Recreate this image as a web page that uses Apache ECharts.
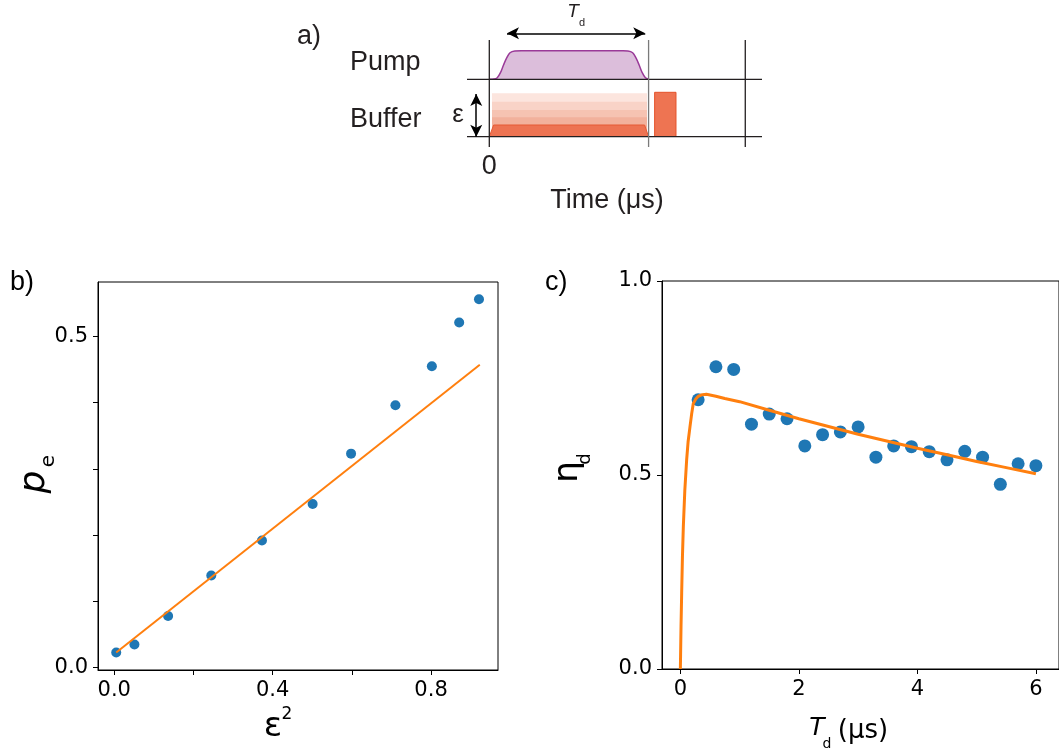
<!DOCTYPE html>
<html>
<head>
<meta charset="utf-8">
<script src="https://cdn.jsdelivr.net/npm/echarts@6/dist/echarts.min.js"></script>
<style>
html,body{margin:0;padding:0;background:#fff;}
#chart{width:1059px;height:754px;}
</style>
</head>
<body>
<div id="chart"></div>
<script>
// ---------- Panel b data ----------
const bX = [0.005, 0.051, 0.136, 0.245, 0.373, 0.501, 0.598, 0.710, 0.802, 0.871, 0.921];
const bY = [0.023, 0.035, 0.078, 0.139, 0.192, 0.247, 0.323, 0.396, 0.455, 0.521, 0.556];
const bFitX = [0.005, 0.923];
const bFitY = [0.023, 0.457];
const bXTicks = [0, 0.2, 0.4, 0.6, 0.8];
const bXLabels = [0, 0.4, 0.8];
const bYTicks = [0, 0.1, 0.2, 0.3, 0.4, 0.5];
const bYLabels = [0, 0.5];

// ---------- Panel c data ----------
const cX = [0.3, 0.6, 0.9, 1.2, 1.5, 1.8, 2.1, 2.4, 2.7, 3.0, 3.3, 3.6, 3.9, 4.2, 4.5, 4.8, 5.1, 5.4, 5.7, 6.0];
const cY = [0.694, 0.779, 0.772, 0.631, 0.657, 0.645, 0.575, 0.604, 0.611, 0.624, 0.546, 0.575, 0.573, 0.560, 0.539, 0.561, 0.546, 0.476, 0.529, 0.524];
const cFitX = [0, 0.011, 0.022, 0.035, 0.05, 0.075, 0.106, 0.13, 0.162, 0.19, 0.218, 0.26, 0.302, 0.37, 0.44, 0.6, 0.75, 1.0, 1.5, 2.0, 2.5, 3.0, 3.5, 4.0, 4.5, 5.0, 5.5, 6.0];
const cFitY = [0, 0.11, 0.196, 0.29, 0.367, 0.46, 0.539, 0.585, 0.624, 0.657, 0.684, 0.696, 0.703, 0.707, 0.708, 0.703, 0.697, 0.689, 0.667, 0.645, 0.625, 0.605, 0.587, 0.569, 0.552, 0.535, 0.519, 0.503];
const cXLabels = [0, 2, 4, 6];
const cYLabels = [0, 0.5, 1.0];

// ---------- Panel a (schematic) data ----------
const pumpBase = 5.74;
const pumpX = [0, 0.03, 0.05, 0.07, 0.09, 0.11, 0.13, 0.16, 0.2, 0.84, 0.87, 0.9, 0.92, 0.94, 0.96, 0.98, 1.0];
const pumpY = [5.74, 5.76, 5.9, 6.4, 7.2, 7.9, 8.4, 8.58, 8.6, 8.6, 8.58, 8.4, 7.9, 7.2, 6.4, 5.9, 5.76];
const layerX = [0.017, 0.017, 0.99, 0.99];
const layerTops = [4.34, 3.5, 2.67, 1.94];
const darkX = [0, 0.027, 0.975, 1.0];
const darkY = [0, 1.17, 1.17, 0];
const readX = [1.038, 1.038, 1.172, 1.172];
const readY = [0, 4.44, 4.44, 0];
const baseLevels = [0, 5.74];
const baseSpan = [-0.14, 1.712];
const vLines = [0, 1, 1.607];
const vSpan = [-1.03, 9.67];
const tdArrow = [[0.111, 10.34], [0.979, 10.34]];
const epsArrow = [[-0.082, 0], [-0.082, 4.27]];
const aXLabels = [0];

function pts(xs, ys) { return xs.map((x, i) => [x, ys[i]]); }

const ink = '#231f20';
const layerColors = ['#fce5de', '#f9d3c7', '#f6c3b2', '#f2b19c'];

const series = [];
// buffer light layers
layerTops.forEach((t, i) => {
  series.push({
    type: 'line', xAxisIndex: 0, yAxisIndex: 0, silent: true, symbol: 'none',
    data: pts(layerX, [0, t, t, 0]),
    lineStyle: { width: 0, color: layerColors[i] },
    areaStyle: { color: layerColors[i], opacity: 1 },
    z: 1
  });
});
series.push({
  type: 'line', xAxisIndex: 0, yAxisIndex: 0, silent: true, symbol: 'none',
  data: pts(darkX, darkY),
  lineStyle: { width: 1, color: '#e65b35' },
  areaStyle: { color: '#ed7352', opacity: 1 }, z: 2
});
series.push({
  type: 'line', xAxisIndex: 0, yAxisIndex: 0, silent: true, symbol: 'none',
  data: pts(readX, readY),
  lineStyle: { width: 1, color: '#e4522a' },
  areaStyle: { color: '#ee7452', opacity: 1 }, z: 2
});
series.push({
  type: 'line', xAxisIndex: 0, yAxisIndex: 0, silent: true, symbol: 'none',
  smooth: 0.3,
  data: pts(pumpX, pumpY),
  lineStyle: { width: 1.5, color: '#9a3a98' },
  areaStyle: { color: '#dcbedb', opacity: 1, origin: pumpBase }, z: 2
});
baseLevels.forEach(l => {
  series.push({
    type: 'line', xAxisIndex: 0, yAxisIndex: 0, silent: true, symbol: 'none',
    data: pts(baseSpan, [l, l]),
    lineStyle: { width: 1.3, color: ink }, z: 3
  });
});
vLines.forEach((v, i) => {
  series.push({
    type: 'line', xAxisIndex: 0, yAxisIndex: 0, silent: true, symbol: 'none',
    data: pts([v, v], vSpan),
    lineStyle: { width: 1.3, color: i === 1 ? '#7a7a7a' : ink }, z: 3
  });
});
series.push({
  type: 'line', xAxisIndex: 0, yAxisIndex: 0, silent: true, symbol: 'none',
  data: [],
  markLine: {
    silent: true, symbol: ['arrow', 'arrow'], symbolSize: [9, 12],
    label: { show: false },
    lineStyle: { color: '#000', width: 1.5, type: 'solid' },
    data: [
      [{ coord: tdArrow[0] }, { coord: tdArrow[1] }],
      [{ coord: epsArrow[0] }, { coord: epsArrow[1] }]
    ]
  }
});

// panel b
series.push({
  type: 'scatter', xAxisIndex: 1, yAxisIndex: 1, symbolSize: 10,
  itemStyle: { color: '#1f77b4', opacity: 1 }, data: pts(bX, bY), z: 2
});
series.push({
  type: 'line', xAxisIndex: 1, yAxisIndex: 1, symbol: 'none',
  lineStyle: { color: '#ff7f0e', width: 2 }, data: pts(bFitX, bFitY), z: 3
});
// panel c
series.push({
  type: 'scatter', xAxisIndex: 2, yAxisIndex: 2, symbolSize: 13,
  itemStyle: { color: '#1f77b4', opacity: 1 }, data: pts(cX, cY), z: 2
});
series.push({
  type: 'line', xAxisIndex: 2, yAxisIndex: 2, symbol: 'none', smooth: false,
  lineStyle: { color: '#ff7f0e', width: 3, join: 'round' }, data: pts(cFitX, cFitY), z: 3
});

const tickFont = { fontSize: 21, fontFamily: 'DejaVu Sans', color: '#000' };
const axLine = { show: true, onZero: false, lineStyle: { color: '#000', width: 1 } };
const tickStyle = { show: true, length: 5, lineStyle: { color: '#000', width: 1 } };

const option = {
  animation: false,
  backgroundColor: '#fff',
  grid: [
    { left: 467, top: 0, width: 295, height: 147 },
    { left: 98, top: 282, width: 400, height: 388, show: true, borderColor: '#000', borderWidth: 1 },
    { left: 662, top: 281, width: 400, height: 388, show: true, borderColor: '#000', borderWidth: 1 }
  ],
  xAxis: [
    {
      type: 'value', gridIndex: 0, min: -0.14, max: 1.712,
      axisLine: { show: false, onZero: false }, axisTick: { show: false }, splitLine: { show: false },
      axisLabel: { customValues: aXLabels, margin: 6, fontSize: 27, fontFamily: 'Liberation Sans', color: ink, formatter: v => String(v) }
    },
    {
      type: 'value', gridIndex: 1, min: -0.041, max: 0.969,
      axisLine: axLine, splitLine: { show: false },
      axisTick: Object.assign({ customValues: bXTicks }, tickStyle),
      axisLabel: Object.assign({ customValues: bXLabels, margin: 10, formatter: v => v.toFixed(1) }, tickFont)
    },
    {
      type: 'value', gridIndex: 2, min: -0.31, max: 6.39,
      axisLine: axLine, splitLine: { show: false },
      axisTick: Object.assign({ customValues: cXLabels }, tickStyle),
      axisLabel: Object.assign({ customValues: cXLabels, margin: 10, formatter: v => String(v) }, tickFont)
    }
  ],
  yAxis: [
    { type: 'value', gridIndex: 0, min: -1.03, max: 13.67, show: false },
    {
      type: 'value', gridIndex: 1, min: -0.0035, max: 0.582,
      axisLine: axLine, splitLine: { show: false },
      axisTick: Object.assign({ customValues: bYTicks }, tickStyle),
      axisLabel: Object.assign({ customValues: bYLabels, margin: 10, formatter: v => v.toFixed(1) }, tickFont)
    },
    {
      type: 'value', gridIndex: 2, min: 0, max: 1,
      axisLine: axLine, splitLine: { show: false },
      axisTick: Object.assign({ customValues: cYLabels }, tickStyle),
      axisLabel: Object.assign({ customValues: cYLabels, margin: 10, formatter: v => v.toFixed(1) }, tickFont)
    }
  ],
  series: series,
  graphic: [
    { type: 'text', x: 297, y: 37, style: { text: 'a)', font: '27px "Liberation Sans"', fill: ink, align: 'left', verticalAlign: 'middle' } },
    { type: 'text', x: 350, y: 63, style: { text: 'Pump', font: '27px "Liberation Sans"', fill: ink, align: 'left', verticalAlign: 'middle' } },
    { type: 'text', x: 350, y: 120, style: { text: 'Buffer', font: '27px "Liberation Sans"', fill: ink, align: 'left', verticalAlign: 'middle' } },
    { type: 'text', x: 458, y: 115, style: { text: 'ε', font: '26px "Liberation Sans"', fill: ink, align: 'center', verticalAlign: 'middle' } },
    { type: 'text', x: 573, y: 12, style: { text: 'T', font: 'italic 19px "Liberation Sans"', fill: ink, align: 'center', verticalAlign: 'middle' } },
    { type: 'text', x: 582, y: 23, style: { text: 'd', font: '11px "Liberation Sans"', fill: ink, align: 'center', verticalAlign: 'middle' } },
    { type: 'text', x: 607, y: 201, style: { text: 'Time (μs)', font: '27px "Liberation Sans"', fill: ink, align: 'center', verticalAlign: 'middle' } },
    { type: 'text', x: 10, y: 283, style: { text: 'b)', font: '27px "Liberation Sans"', fill: '#000', align: 'left', verticalAlign: 'middle' } },
    { type: 'text', x: 545, y: 283, style: { text: 'c)', font: '27px "Liberation Sans"', fill: '#000', align: 'left', verticalAlign: 'middle' } },
    { type: 'text', x: 35, y: 482, rotation: Math.PI / 2, style: { text: 'p', font: 'italic 36px "DejaVu Sans"', fill: '#000', align: 'center', verticalAlign: 'middle' } },
    { type: 'text', x: 49, y: 461, rotation: Math.PI / 2, style: { text: 'e', font: '20px "DejaVu Sans"', fill: '#000', align: 'center', verticalAlign: 'middle' } },
    { type: 'text', x: 568, y: 472, rotation: Math.PI / 2, style: { text: 'η', font: '34px "DejaVu Sans"', fill: '#000', align: 'center', verticalAlign: 'middle' } },
    { type: 'text', x: 585, y: 459, rotation: Math.PI / 2, style: { text: 'd', font: '18px "DejaVu Sans"', fill: '#000', align: 'center', verticalAlign: 'middle' } },
    { type: 'text', x: 273, y: 727, style: { text: 'ε', font: '34px "DejaVu Sans"', fill: '#000', align: 'center', verticalAlign: 'middle' } },
    { type: 'text', x: 287, y: 715, style: { text: '2', font: '17px "DejaVu Sans"', fill: '#000', align: 'center', verticalAlign: 'middle' } },
    { type: 'text', x: 817, y: 728, style: { text: 'T', font: 'italic 25px "DejaVu Sans"', fill: '#000', align: 'center', verticalAlign: 'middle' } },
    { type: 'text', x: 827, y: 744, style: { text: 'd', font: '14px "DejaVu Sans"', fill: '#000', align: 'center', verticalAlign: 'middle' } },
    { type: 'text', x: 863, y: 731, style: { text: '(μs)', font: '26px "DejaVu Sans"', fill: '#000', align: 'center', verticalAlign: 'middle' } }
  ]
};

const chart = echarts.init(document.getElementById('chart'), null, { renderer: 'canvas' });
chart.setOption(option);
</script>
</body>
</html>
